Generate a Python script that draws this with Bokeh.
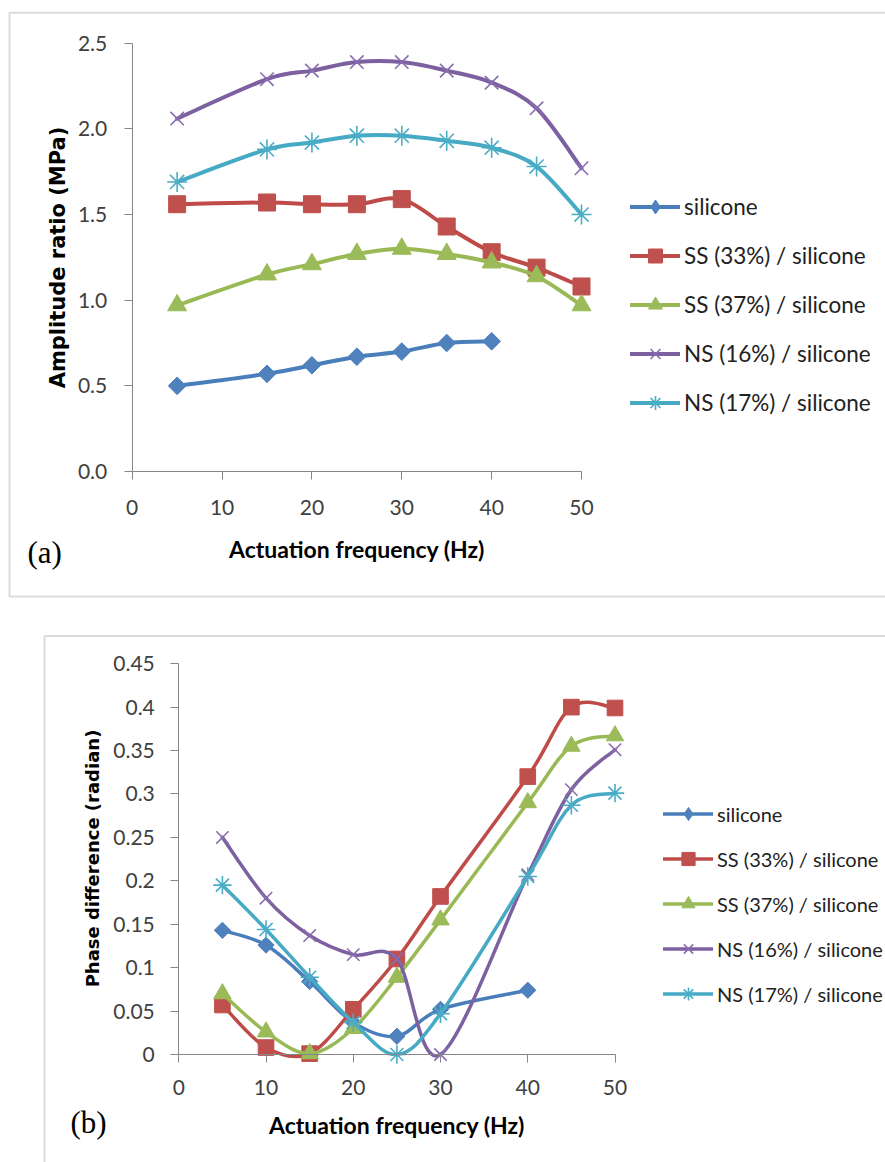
import math
from bokeh.plotting import figure
from bokeh.layouts import column
from bokeh.models import (ColumnDataSource, Range1d, FixedTicker, NumeralTickFormatter,
                          Legend, LegendItem, Label, BoxAnnotation)
from bokeh.embed import file_html
from bokeh.resources import INLINE

# ---------------- data ----------------
series_names = ["silicone", "SS (33%) / silicone", "SS (37%) / silicone",
                "NS (16%) / silicone", "NS (17%) / silicone"]

# panel (a): amplitude ratio
freq_a = [5, 15, 20, 25, 30, 35, 40, 45, 50]
freq_a_silicone = [5, 15, 20, 25, 30, 35, 40]
amp_silicone = [0.50, 0.57, 0.62, 0.67, 0.70, 0.75, 0.76]
amp_ss33 = [1.56, 1.57, 1.56, 1.56, 1.59, 1.43, 1.28, 1.19, 1.08]
amp_ss37 = [0.97, 1.15, 1.21, 1.27, 1.30, 1.27, 1.22, 1.14, 0.97]
amp_ns16 = [2.06, 2.29, 2.34, 2.39, 2.39, 2.34, 2.27, 2.12, 1.77]
amp_ns17 = [1.69, 1.88, 1.92, 1.96, 1.96, 1.93, 1.89, 1.78, 1.50]

# panel (b): phase difference
freq_b = [5, 10, 15, 20, 25, 30, 40, 45, 50]
freq_b_silicone = [5, 10, 15, 20, 25, 30, 40]
ph_silicone = [0.143, 0.126, 0.084, 0.037, 0.021, 0.052, 0.074]
ph_ss33 = [0.057, 0.008, 0.001, 0.052, 0.110, 0.182, 0.320, 0.400, 0.399]
ph_ss37 = [0.070, 0.026, 0.001, 0.030, 0.089, 0.155, 0.290, 0.355, 0.367]
ph_ns16 = [0.250, 0.180, 0.137, 0.115, 0.110, 0.000, 0.207, 0.305, 0.351]
ph_ns17 = [0.195, 0.144, 0.089, 0.037, 0.000, 0.047, 0.205, 0.287, 0.301]

x_ticks = [0, 10, 20, 30, 40, 50]
y_ticks_a = [0.0, 0.5, 1.0, 1.5, 2.0, 2.5]
y_ticks_b = [0, 0.05, 0.1, 0.15, 0.2, 0.25, 0.3, 0.35, 0.4, 0.45]

# ---------------- styles ----------------
line_colors = ["#4A7EBB", "#BE4B48", "#98B954", "#7D60A0", "#46AAC5"]
marker_styles = [
    dict(marker="square", angle=math.pi / 4, size=12.5, fill_color="#4F81BD", line_color="#4F81BD", line_width=1),
    dict(marker="square", angle=0.0, size=17, fill_color="#C0504D", line_color="#C0504D", line_width=1),
    dict(marker="triangle", angle=0.0, size=19, fill_color="#9BBB59", line_color="#9BBB59", line_width=1),
    dict(marker="x", angle=0.0, size=19, fill_color=None, line_color="#8A6DB0", line_width=1.6),
    dict(marker="asterisk", angle=0.0, size=20, fill_color=None, line_color="#4BACC6", line_width=1.6),
]

TICK_FONT = "Lato"
AXIS_GRAY = "#868686"
BOX_GRAY = "#878787"
W = 885


def smooth_source(xs, ys):
    """Bezier control points (Catmull-Rom style, like a spreadsheet 'smoothed line')."""
    n = len(xs)
    d = dict(x0=[], y0=[], x1=[], y1=[], cx0=[], cy0=[], cx1=[], cy1=[])
    for i in range(n - 1):
        xp, yp = (xs[i - 1], ys[i - 1]) if i > 0 else (xs[i], ys[i])
        xn, yn = (xs[i + 2], ys[i + 2]) if i + 2 < n else (xs[i + 1], ys[i + 1])
        d["x0"].append(xs[i]); d["y0"].append(ys[i])
        d["x1"].append(xs[i + 1]); d["y1"].append(ys[i + 1])
        d["cx0"].append(xs[i] + (xs[i + 1] - xp) / 6.0)
        d["cy0"].append(ys[i] + (ys[i + 1] - yp) / 6.0)
        d["cx1"].append(xs[i + 1] - (xn - xs[i]) / 6.0)
        d["cy1"].append(ys[i + 1] - (yn - ys[i]) / 6.0)
    return ColumnDataSource(d)


def make_fig(height, x0_px, x50_px, y0_px, ytop_px, ytop_val):
    """Frame covers the whole canvas; axes are pinned at x=0 / y=0."""
    sx = (x50_px - x0_px) / 50.0
    sy = (y0_px - ytop_px) / ytop_val
    xr = Range1d(-x0_px / sx, (W - x0_px) / sx)
    yr = Range1d(-(height - y0_px) / sy, y0_px / sy)
    p = figure(width=W, height=height, x_range=xr, y_range=yr,
               output_backend="svg", toolbar_location=None, title=None,
               min_border=0, min_border_left=0, min_border_right=0,
               min_border_top=0, min_border_bottom=0,
               outline_line_color=None, background_fill_color="white",
               border_fill_color="white")
    p.grid.visible = False
    return p


def style_axes(p, ytop_val, x_std, xl_std, y_std):
    for ax in (p.xaxis[0], p.yaxis[0]):
        ax.fixed_location = 0
        ax.axis_line_color = AXIS_GRAY
        ax.axis_line_width = 1
        ax.major_tick_line_color = AXIS_GRAY
        ax.major_tick_out = 8
        ax.major_tick_in = 0
        ax.minor_tick_line_color = None
        ax.major_label_text_font = TICK_FONT
        ax.major_label_text_font_size = "21px"
        ax.major_label_text_color = "#404040"
    p.xaxis.ticker = FixedTicker(ticks=x_ticks)
    p.xaxis.bounds = (0, 50)
    p.yaxis.bounds = (0, ytop_val)
    p.xaxis.axis_label = "Actuation frequency (Hz)"
    p.xaxis.axis_label_text_font = "Lato"
    p.xaxis.axis_label_text_font_style = "bold"
    p.xaxis.axis_label_text_font_size = "23px"
    p.xaxis.axis_label_text_color = "#000000"
    p.xaxis.major_label_standoff = x_std
    p.xaxis.axis_label_standoff = xl_std
    p.yaxis.major_label_standoff = y_std


def add_ytitle(p, height, text, size, xcenter, ycenter):
    p.add_layout(Label(x=xcenter, y=height - ycenter, x_units="screen", y_units="screen",
                       text=text, angle=math.pi / 2, text_font="DejaVu Sans",
                       text_font_style="bold", text_font_size=size, text_color="#000000",
                       text_align="center", text_baseline="middle"))


def add_series(p, xs_list, ys_list, lw, msize_scale):
    items = []
    for k in range(5):
        src = smooth_source(xs_list[k], ys_list[k])
        lr = p.bezier(x0="x0", y0="y0", x1="x1", y1="y1", cx0="cx0", cy0="cy0",
                      cx1="cx1", cy1="cy1", source=src, line_color=line_colors[k],
                      line_width=lw, line_cap="round")
        ms = marker_styles[k]
        legend_renderers = [lr]
        if ms["angle"] != 0.0:
            # a plain diamond sitting inside the rotated square: it gives the legend
            # its diamond glyph (the legend does not draw marker rotation)
            dr = p.scatter(xs_list[k], ys_list[k], marker="diamond", size=ms["size"] * msize_scale,
                           fill_color=ms["fill_color"], line_color=ms["line_color"], line_width=1)
            legend_renderers.append(dr)
        sr = p.scatter(xs_list[k], ys_list[k], marker=ms["marker"], angle=ms["angle"],
                       size=ms["size"] * msize_scale, fill_color=ms["fill_color"],
                       line_color=ms["line_color"], line_width=ms["line_width"])
        if ms["angle"] == 0.0:
            legend_renderers.append(sr)
        items.append(LegendItem(label=series_names[k], renderers=legend_renderers))
    return items


def make_legend(items, loc, glyph_h, spacing, font_size):
    return Legend(items=items, location=loc, orientation="vertical",
                  glyph_width=50, glyph_height=glyph_h, spacing=spacing,
                  label_standoff=4, padding=0, margin=0,
                  label_text_font=TICK_FONT, label_text_font_size=font_size,
                  label_text_color="#222222", border_line_color=None,
                  background_fill_alpha=0)


def add_box(p, height, left, top, bottom):
    # screen units: x from the left, y measured upward from the bottom of the frame
    p.add_layout(BoxAnnotation(left=left, right=W + 50, top=height - top, bottom=height - bottom,
                               left_units="screen", right_units="screen",
                               top_units="screen", bottom_units="screen",
                               fill_alpha=0, line_color=BOX_GRAY, line_width=2))


def add_tag(p, height, text, x, ycenter):
    p.add_layout(Label(x=x, y=height - ycenter, x_units="screen", y_units="screen", text=text,
                       text_font="Liberation Serif", text_font_size="31px",
                       text_color="#000000", text_baseline="middle", text_align="left"))


# ---------------- panel (a) ----------------
HA = 615
p_a = make_fig(HA, 131.7, 581.0, 471.0, 42.7, 2.5)
style_axes(p_a, 2.5, 20, 17, 17)
p_a.yaxis.ticker = FixedTicker(ticks=y_ticks_a)
p_a.yaxis.formatter = NumeralTickFormatter(format="0.0")
add_ytitle(p_a, HA, "Amplitude ratio (MPa)", "21px", 57, 257)
items_a = add_series(p_a,
                     [freq_a_silicone, freq_a, freq_a, freq_a, freq_a],
                     [amp_silicone, amp_ss33, amp_ss37, amp_ns16, amp_ns17],
                     lw=4, msize_scale=1.0)
p_a.add_layout(make_legend(items_a, (630, 195), 35, 14, "22.5px"))
add_tag(p_a, HA, "(a)", 27, 552)
add_box(p_a, HA, 9, 12.3, 596)

# ---------------- panel (b) ----------------
HB = 547
p_b = make_fig(HB, 178.3, 614.5, 439.0, 48.2, 0.45)
style_axes(p_b, 0.45, 17, 13, 16)
p_b.yaxis.ticker = FixedTicker(ticks=y_ticks_b)
p_b.yaxis.formatter = NumeralTickFormatter(format="0.[00]")
add_ytitle(p_b, HB, "Phase difference (radian)", "18px", 92, 1858 - 615 - 1000)
items_b = add_series(p_b,
                     [freq_b_silicone, freq_b, freq_b, freq_b, freq_b],
                     [ph_silicone, ph_ss33, ph_ss37, ph_ns16, ph_ns17],
                     lw=3.5, msize_scale=0.92)
p_b.add_layout(make_legend(items_b, (663, 152), 33, 12, "20px"))
add_tag(p_b, HB, "(b)", 70, 507)
add_box(p_b, HB, 44, 20.5, HB + 60)

layout = column(p_a, p_b, spacing=0)
open("out.html", "w").write(file_html(layout, INLINE))
